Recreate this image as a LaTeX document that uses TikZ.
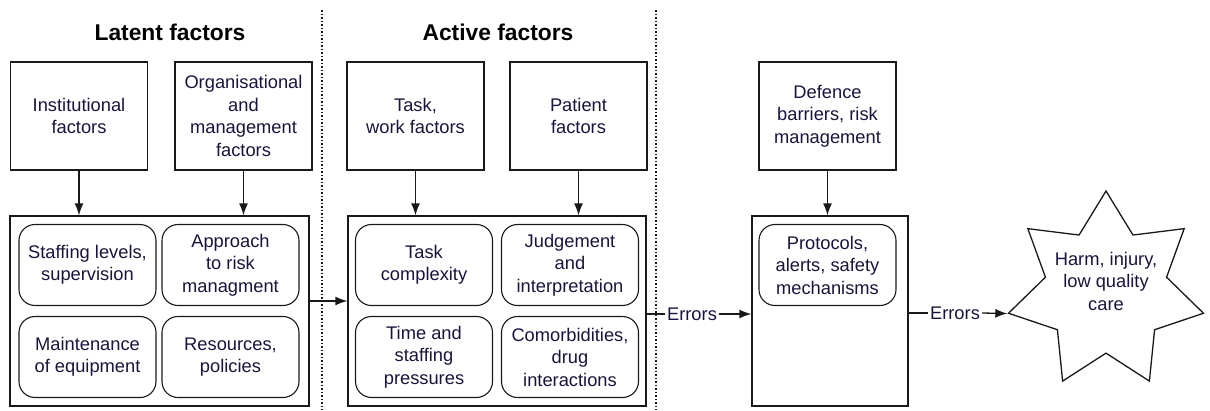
\documentclass[tikz,border=0pt]{standalone}
\usepackage{fontspec}
\setmainfont{Liberation Sans}
\usetikzlibrary{arrows.meta,shapes.geometric}
\definecolor{ink}{RGB}{25,20,60}
\definecolor{edge}{RGB}{25,25,25}
\newcommand{\bodyfont}{\fontsize{18.3pt}{22.5pt}\selectfont}
\newcommand{\headfont}{\fontsize{22.8pt}{26pt}\selectfont\bfseries}
\tikzset{
  factor/.style={draw=edge, line width=1.3pt, minimum width=137pt, minimum height=108pt, align=center, font=\bodyfont, text=ink, inner sep=1pt},
  group/.style={draw=edge, line width=1.3pt, inner sep=0pt},
  item/.style={draw=edge, line width=1.1pt, rounded corners=16pt, minimum width=137pt, minimum height=81pt, align=center, font=\bodyfont, text=ink, inner sep=1pt},
  label/.style={font=\bodyfont, text=ink, inner sep=2pt},
  link/.style={edge, line width=1.3pt, -{Latex[length=12pt,width=9pt]}},
  plain/.style={edge, line width=1.3pt},
  divider/.style={edge, line width=1.3pt, dash pattern=on 1.5pt off 2pt},
}

\begin{document}
\begin{tikzpicture}[x=1pt, y=-1pt]
\useasboundingbox (0,0) rectangle (1210,410);
\node[font=\headfont] (latenthead) at (170,32) {Latent factors};
\node[font=\headfont] (activehead) at (498,32) {Active factors};
\draw[divider] (322,10) -- (322,410);
\draw[divider] (656,10) -- (656,410);

\node[factor] (inst) at (79,116) {Institutional\\factors};
\node[factor] (org) at (243.5,116) {Organisational\\and\\management\\factors};
\node[factor] (task) at (415.5,116) {Task,\\work factors};
\node[factor] (patient) at (578.5,116) {Patient\\factors};
\node[factor] (defence) at (827.5,116) {Defence\\barriers, risk\\management};

\node[group, minimum width=299pt, minimum height=190pt] (latent) at (159.5,311) {};
\node[group, minimum width=298pt, minimum height=190pt] (active) at (497,311) {};
\node[group, minimum width=156pt, minimum height=190pt] (barrier) at (830,311) {};

\node[item] (staffing) at (87.5,265) {Staffing levels,\\supervision};
\node[item] (approach) at (230.5,265) {Approach\\to risk\\managment};
\node[item] (maint) at (87.5,357) {Maintenance\\of equipment};
\node[item] (resources) at (230.5,357) {Resources,\\policies};
\node[item] (complexity) at (424,265) {Task\\complexity};
\node[item] (judgement) at (570,265) {Judgement\\and\\interpretation};
\node[item] (pressures) at (424,357) {Time and\\staffing\\pressures};
\node[item] (comorb) at (570,357) {Comorbidities,\\drug\\interactions};
\node[item] (protocols) at (827.5,265) {Protocols,\\alerts, safety\\mechanisms};

\node[draw=edge, line width=1.3pt, star, star points=7, star point ratio=1.61, minimum size=200pt, inner sep=-12pt, text depth=20pt, align=center, font=\bodyfont, text=ink] (harm) at (1106,291) {Harm, injury,\\low quality\\care};

\node[label] (err1) at (692,314) {Errors};
\node[label] (err2) at (955,313) {Errors};

\draw[link] (inst.south) -- (inst.south |- latent.north);
\draw[link] (org.south) -- (org.south |- latent.north);
\draw[link] (task.south) -- (task.south |- active.north);
\draw[link] (patient.south) -- (patient.south |- active.north);
\draw[link] (defence.south) -- (defence.south |- barrier.north);
\draw[link] ([yshift=10pt]latent.east) -- ([yshift=10pt]active.west);
\draw[plain] (err1 -| active.east) -- (err1.west);
\draw[link] (err1.east) -- (err1 -| barrier.west);
\draw[plain] (err2 -| barrier.east) -- (err2.west);
\draw[link] (err2.east) -- (harm.outer point 3);
\end{tikzpicture}
\end{document}
